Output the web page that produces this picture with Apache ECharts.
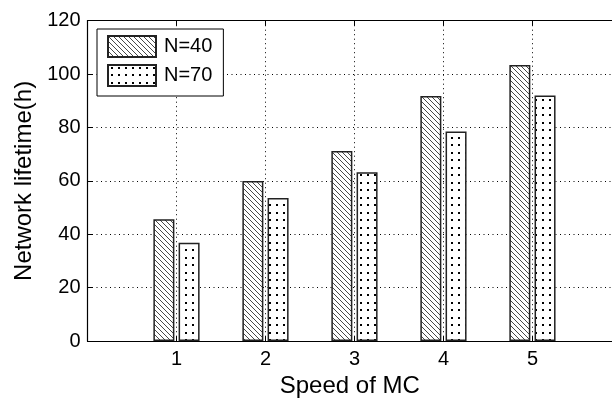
<!DOCTYPE html>
<html>
<head>
<meta charset="utf-8">
<script src="https://cdn.jsdelivr.net/npm/echarts@6/dist/echarts.min.js"></script>
<style>
html,body{margin:0;padding:0;background:#fff;}
#chart{width:612px;height:403px;}
</style>
</head>
<body>
<div id="chart"></div>
<script>
// ---- data ----
var speeds = [1, 2, 3, 4, 5];
var n40 = [45.6, 60.0, 71.2, 91.8, 103.4];
var n70 = [36.8, 53.6, 63.2, 78.5, 92.0];
var seriesNames = ['N=40', 'N=70'];
var yTicks = [0, 20, 40, 60, 80, 100, 120];
var xMin = 0, xMaxVisible = 5.894; // axis runs to 6, picture is cropped on the right

// ---- fill patterns ----
function hatchCanvas() {
  var c = document.createElement('canvas');
  c.width = 5; c.height = 5;
  var g = c.getContext('2d');
  g.fillStyle = '#fff'; g.fillRect(0, 0, 5, 5);
  g.strokeStyle = '#333'; g.lineWidth = 0.9;
  g.beginPath();
  g.moveTo(-1, -1); g.lineTo(6, 6);
  g.moveTo(-6, -1); g.lineTo(1, 6);
  g.moveTo(4, -1); g.lineTo(11, 6);
  g.stroke();
  return c;
}
function dotCanvas() {
  var c = document.createElement('canvas');
  c.width = 7; c.height = 15;
  var g = c.getContext('2d');
  g.fillStyle = '#fff'; g.fillRect(0, 0, 7, 15);
  g.fillStyle = '#000';
  g.fillRect(3, 2, 2, 2);
  g.fillRect(3, 9, 2, 2);
  return c;
}
var hatch = { image: hatchCanvas(), repeat: 'repeat' };
var dots = { image: dotCanvas(), repeat: 'repeat' };

function pairs(vals) {
  return speeds.map(function (s, i) { return [s, vals[i]]; });
}

var FONT = 'Liberation Sans, Arial, Helvetica, sans-serif';
var chart = echarts.init(document.getElementById('chart'), null, { renderer: 'canvas' });

function xLabel(v) {
  return (speeds.indexOf(v) >= 0) ? String(v) : '';
}

chart.setOption({
  backgroundColor: '#fff',
  animation: false,
  grid: { left: 87.5, top: 20.7, right: 0, bottom: 56.5, show: false },
  legend: {
    orient: 'vertical',
    left: 97, top: 29,
    data: seriesNames,
    itemWidth: 48, itemHeight: 21,
    itemGap: 6,
    padding: [6, 11, 9, 10],
    backgroundColor: '#fff',
    borderColor: '#000', borderWidth: 1,
    textStyle: { fontFamily: FONT, fontSize: 20, color: '#000', padding: [0, 0, 0, 3] },
    icon: 'rect'
  },
  xAxis: [{
    type: 'value', min: xMin, max: xMaxVisible, interval: 1,
    position: 'bottom',
    name: 'Speed of MC', nameLocation: 'middle', nameGap: 31,
    nameTextStyle: { fontFamily: FONT, fontSize: 24, color: '#000' },
    axisLine: { show: true, onZero: false, lineStyle: { color: '#000', width: 1.2 } },
    axisTick: { show: true, inside: true, length: 5, lineStyle: { color: '#000' } },
    axisLabel: { fontFamily: FONT, fontSize: 20, color: '#000', margin: 8, formatter: xLabel, showMaxLabel: false },
    splitLine: { show: true, showMaxLine: false, lineStyle: { color: '#000', width: 1, type: [1, 3.5] } }
  }, {
    type: 'value', min: xMin, max: xMaxVisible, interval: 1,
    position: 'top',
    axisLine: { show: true, onZero: false, lineStyle: { color: '#000', width: 1.2 } },
    axisTick: { show: true, inside: true, length: 5, lineStyle: { color: '#000' } },
    axisLabel: { show: false },
    splitLine: { show: false }
  }],
  yAxis: {
    type: 'value', min: yTicks[0], max: yTicks[yTicks.length - 1], interval: 20,
    name: 'Network lifetime(h)', nameLocation: 'middle', nameGap: 48,
    nameTextStyle: { fontFamily: FONT, fontSize: 24, color: '#000' },
    axisLine: { show: true, lineStyle: { color: '#000', width: 1.2 } },
    axisTick: { show: true, inside: true, length: 5, lineStyle: { color: '#000' } },
    axisLabel: { fontFamily: FONT, fontSize: 20, color: '#000', margin: 7 },
    splitLine: { show: true, lineStyle: { color: '#000', width: 1, type: [1, 3.5] } }
  },
  series: [{
    name: seriesNames[0], type: 'bar', xAxisIndex: 0,
    data: pairs(n40), barWidth: 21, barGap: '20%',
    itemStyle: { color: hatch, borderColor: '#222', borderWidth: 1.5 }
  }, {
    name: seriesNames[1], type: 'bar', xAxisIndex: 0,
    data: pairs(n70), barWidth: 21, barGap: '20%',
    itemStyle: { color: dots, borderColor: '#222', borderWidth: 1.5 }
  }]
});
</script>
</body>
</html>
